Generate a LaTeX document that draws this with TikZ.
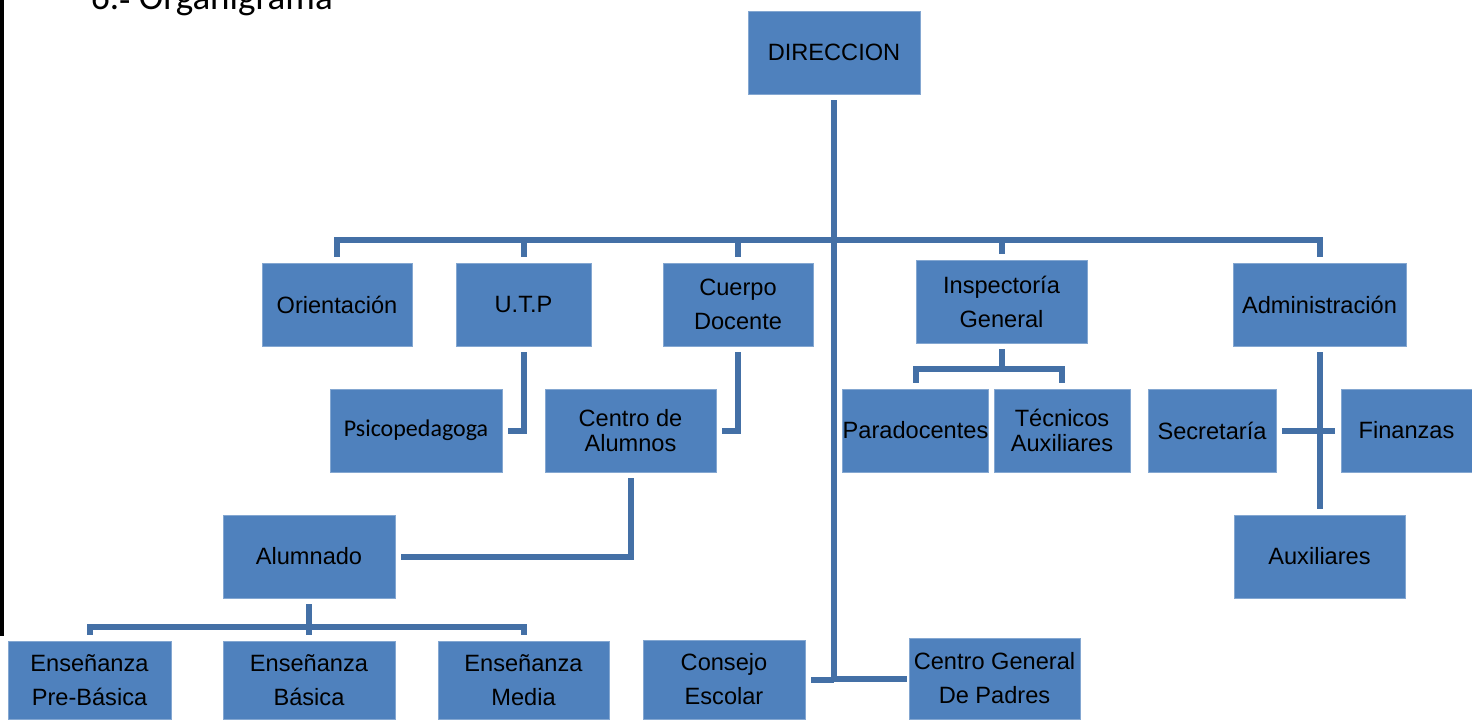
\documentclass[tikz,border=0pt]{standalone}
\usepackage{fontspec}
\setmainfont{Liberation Sans}
\newfontfamily\calibri{Carlito}
\definecolor{boxblue}{HTML}{4F81BD}
\definecolor{lineblue}{HTML}{4470A6}
\begin{document}
\begin{tikzpicture}[x=0.5pt,y=-0.5pt,
    box/.style={fill=boxblue,draw=boxblue!70!white,line width=0.4pt,inner sep=0pt,align=center,
      font=\fontsize{11.8}{17}\selectfont,minimum height=41.5pt},
    tight/.style={font=\fontsize{11.8}{12.5}\selectfont},
    conn/.style={draw=lineblue,line width=3pt}]
  \useasboundingbox (0,0) rectangle (1472,719);
  \fill[black] (0,0) rectangle (4,636);
  \node[anchor=base west,font=\calibri\fontsize{18.5}{20}\selectfont] (title) at (84,9.5) {6.\raisebox{-1.5pt}{-} Organigrama};
  % boxes
  \node[box,minimum width=86pt] (dir) at (834,52.5) {DIRECCION};
  \node[box,minimum width=75pt] (orient) at (337,304.5) {Orientación};
  \node[box,minimum width=67.5pt] (utp) at (523.5,304.5) {U.T.P};
  \node[box,minimum width=75pt] (cuerpo) at (738,304.5) {Cuerpo\\Docente};
  \node[box,minimum width=85.5pt] (insp) at (1001.5,301.5) {Inspectoría\\General};
  \node[box,minimum width=86.5pt] (admin) at (1319.5,304.5) {Administración};
  \node[box,minimum width=86pt,font=\calibri\fontsize{12}{14}\selectfont] (psico) at (416,430.5) {Psicopedagoga};
  \node[box,tight,minimum width=85.5pt] (calum) at (630.5,430.5) {Centro de\\Alumnos};
  \node[box,minimum width=72.5pt] (para) at (915.5,430.5) {Paradocentes};
  \node[box,tight,minimum width=68pt] (tec) at (1062,430.5) {Técnicos\\Auxiliares};
  \node[box,minimum width=64pt] (secre) at (1212,430.5) {Secretaría};
  \node[box,minimum width=65.5pt] (fin) at (1406.5,430.5) {Finanzas};
  \node[box,minimum width=85.5pt] (aux) at (1319.5,556.5) {Auxiliares};
  \node[box,minimum width=86pt] (alum) at (309,556.5) {Alumnado};
  \node[box,minimum width=81.5pt,minimum height=39pt] (pre) at (89.5,680) {Enseñanza\\Pre-Básica};
  \node[box,minimum width=86pt,minimum height=39pt] (bas) at (309,680) {Enseñanza\\Básica};
  \node[box,minimum width=85.5pt,minimum height=39pt] (med) at (523.5,680) {Enseñanza\\Media};
  \node[box,minimum width=81pt,minimum height=39.5pt] (consejo) at (724,679.5) {Consejo\\Escolar};
  \node[box,minimum width=85.5pt,minimum height=40.5pt] (cgp) at (994.5,678.5) {Centro General\\De Padres};
  \coordinate (bus) at (834,240);
  \coordinate (ebus) at (309,627);
  \coordinate (ibus) at (1001.5,369);
  % connectors
  \draw[conn] ([yshift=-3pt]dir.south) -- (dir.south |- cgp.west) -- ([xshift=-1pt]cgp.west);
  \draw[conn] ([xshift=3pt]consejo.east) -- (dir.south |- consejo.east);
  \draw[conn] ([yshift=3pt]orient.north) |- (bus) -| ([yshift=3pt]admin.north);
  \draw[conn] ([yshift=3pt]utp.north) -- (utp.north |- bus);
  \draw[conn] ([yshift=3pt]cuerpo.north) -- (cuerpo.north |- bus);
  \draw[conn] ([yshift=3pt]insp.north) -- (insp.north |- bus);
  \draw[conn] ([yshift=-3pt]utp.south) |- ([xshift=3pt]psico.east);
  \draw[conn] ([yshift=-3pt]cuerpo.south) |- ([xshift=3pt]calum.east);
  \draw[conn] ([yshift=-3pt]calum.south) |- ([xshift=3pt]alum.east);
  \draw[conn] ([yshift=-3pt]alum.south) -- ([yshift=3pt]bas.north);
  \draw[conn] ([yshift=3pt]pre.north) |- (ebus) -| ([yshift=3pt]med.north);
  \draw[conn] ([yshift=-3pt]insp.south) -- (ibus);
  \draw[conn] ([yshift=3pt]para.north) |- (ibus) -| ([yshift=3pt]tec.north);
  \draw[conn] ([yshift=-3pt]admin.south) -- ([yshift=3pt]aux.north);
  \draw[conn] ([xshift=3pt]secre.east) -- ([xshift=-3pt]fin.west);
\end{tikzpicture}
\end{document}
